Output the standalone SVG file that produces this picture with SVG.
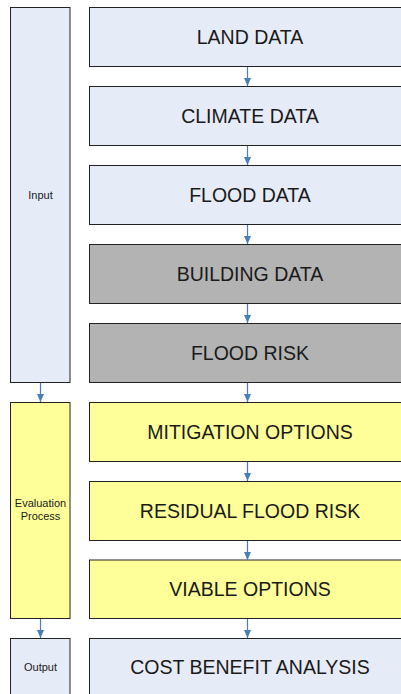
<svg xmlns="http://www.w3.org/2000/svg" width="401" height="694" viewBox="0 0 401 694">
<style>
.box{stroke:#222;stroke-width:1}
.blue{fill:#e6ecf7}
.gray{fill:#b3b3b3}
.yel{fill:#ffff99}
.big{font-family:"Liberation Sans",Arial,sans-serif;font-size:19.5px;fill:#1a1a1a;text-anchor:middle}
.sm{font-family:"Liberation Sans",Arial,sans-serif;font-size:11px;fill:#1a1a1a;text-anchor:middle}
.conn{stroke:#4a7ebb;stroke-width:1.2;fill:none;marker-end:url(#ah)}
</style>
<defs>
<marker id="ah" viewBox="0 0 8 8" refX="8" refY="4" markerWidth="8" markerHeight="8" markerUnits="userSpaceOnUse" orient="auto">
<path d="M0,0.5 L8,4 L0,7.5 Z" fill="#4a7ebb"/>
</marker>
</defs>
<rect width="401" height="694" fill="#fff"/>
<g id="input"><rect class="box blue" x="10.5" y="7.5" width="59.5" height="375"/><text class="sm" x="40.5" y="198.5">Input</text></g>
<g id="evaluation"><rect class="box yel" x="10.5" y="402.5" width="59.5" height="216"/><text class="sm" x="40.5" y="507">Evaluation</text><text class="sm" x="40.5" y="520">Process</text></g>
<g id="output"><rect class="box blue" x="10.5" y="638.5" width="59.5" height="70"/><text class="sm" x="40.5" y="671">Output</text></g>
<g id="land"><rect class="box blue" x="89.5" y="7.5" width="330" height="59"/><text class="big" x="250" y="43.5">LAND DATA</text></g>
<g id="climate"><rect class="box blue" x="89.5" y="86.5" width="330" height="59"/><text class="big" x="250" y="122.5">CLIMATE DATA</text></g>
<g id="flood"><rect class="box blue" x="89.5" y="165.5" width="330" height="59"/><text class="big" x="250" y="201.5">FLOOD DATA</text></g>
<g id="building"><rect class="box gray" x="89.5" y="244.5" width="330" height="59"/><text class="big" x="250" y="280.5">BUILDING DATA</text></g>
<g id="floodrisk"><rect class="box gray" x="89.5" y="323.5" width="330" height="59"/><text class="big" x="250" y="359.5">FLOOD RISK</text></g>
<g id="mitigation"><rect class="box yel" x="89.5" y="402.5" width="330" height="59"/><text class="big" x="250" y="438.5">MITIGATION OPTIONS</text></g>
<g id="residual"><rect class="box yel" x="89.5" y="481.5" width="330" height="59"/><text class="big" x="250" y="517.5">RESIDUAL FLOOD RISK</text></g>
<g id="viable"><rect class="box yel" x="89.5" y="560" width="330" height="58.5"/><text class="big" x="250" y="596">VIABLE OPTIONS</text></g>
<g id="cba"><rect class="box blue" x="89.5" y="638.5" width="330" height="70"/><text class="big" x="250" y="674">COST BENEFIT ANALYSIS</text></g>
<g id="connectors">
<line class="conn" x1="247.5" y1="67" x2="247.5" y2="86"/>
<line class="conn" x1="247.5" y1="146" x2="247.5" y2="165"/>
<line class="conn" x1="247.5" y1="225" x2="247.5" y2="244"/>
<line class="conn" x1="247.5" y1="304" x2="247.5" y2="323"/>
<line class="conn" x1="247.5" y1="383" x2="247.5" y2="402"/>
<line class="conn" x1="247.5" y1="462" x2="247.5" y2="481"/>
<line class="conn" x1="247.5" y1="541" x2="247.5" y2="560"/>
<line class="conn" x1="247.5" y1="619" x2="247.5" y2="638"/>
<line class="conn" x1="40.5" y1="383" x2="40.5" y2="402"/>
<line class="conn" x1="40.5" y1="619" x2="40.5" y2="638"/>
</g>
</svg>
